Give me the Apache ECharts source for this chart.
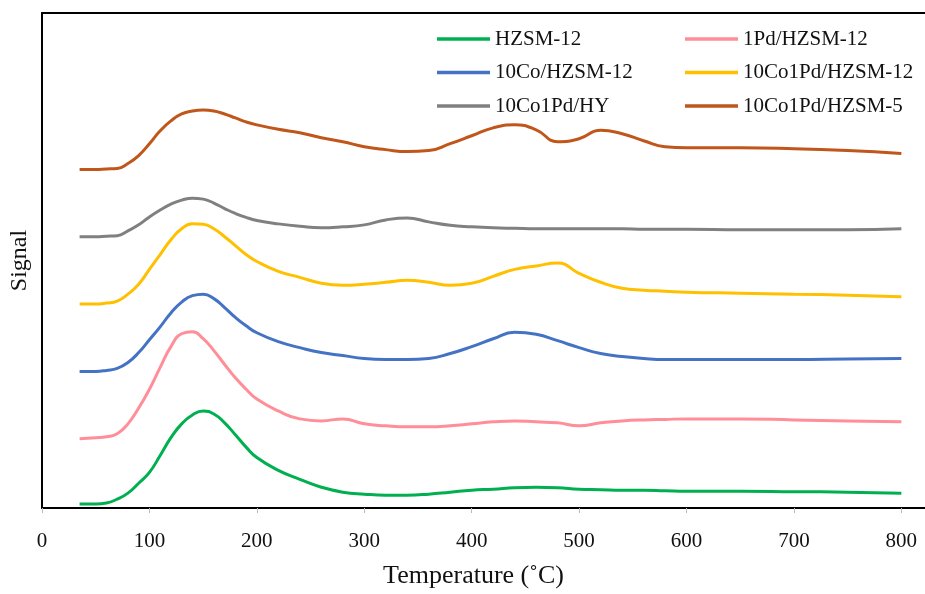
<!DOCTYPE html>
<html>
<head>
<meta charset="utf-8">
<script src="https://cdn.jsdelivr.net/npm/echarts@6/dist/echarts.min.js"></script>
<style>html,body{margin:0;padding:0;background:#fff}#c{width:925px;height:594px}</style>
</head>
<body>
<div id="c"></div>
<script>
const temps = [35,50,60,70,80,90,100,110,120,130,140,150,160,170,180,190,200,220,240,260,280,300,320,340,360,380,400,420,440,460,480,500,520,540,560,580,600,650,700,750,800];
const xTicks = [0,100,200,300,400,500,600,700,800];

const hzsm12 = [0.8,0.8,1.0,1.8,3.0,5.0,7.2,10.6,14.2,17,18.8,19.6,19.0,17.2,14.8,12.3,10.2,7.6,5.8,4.2,3.2,2.8,2.6,2.6,2.8,3.2,3.6,3.8,4.1,4.2,4.1,3.8,3.7,3.6,3.6,3.5,3.4,3.4,3.3,3.2,3.0];
const pd1 = [14,14.2,14.4,15,17,20.2,24,28.4,32.6,35.2,35.6,34.2,31.8,29,26.3,24,22,19.6,18,17.6,18,17,16.6,16.4,16.4,16.6,17,17.4,17.6,17.4,17.2,16.6,17.2,17.6,17.8,17.9,18,18,17.8,17.6,17.4];
const co10 = [27.6,27.6,27.8,28.2,29.4,31.4,34,36.6,39.4,41.6,42.9,43.2,42.3,40.5,38.5,36.8,35.4,33.6,32.4,31.4,30.8,30.2,30,30,30.2,31.2,32.6,34.2,35.5,35.1,33.8,32.4,31.2,30.6,30.2,30,30,30,30,30.1,30.2];
const co10pd1 = [41.2,41.2,41.4,41.8,43.2,45.2,48.2,51.2,54.2,56.4,57.4,57.3,56.4,54.8,53,51.2,49.8,47.8,46.6,45.4,45,45.2,45.6,46,45.6,45,45.4,46.8,48.2,48.9,49.5,47.4,45.6,44.4,44,43.8,43.6,43.4,43.2,43,42.7];
const co10pd1HY = [54.8,54.8,54.9,55,56,57.2,58.8,60.2,61.4,62.2,62.6,62.4,61.6,60.5,59.5,58.7,58.1,57.4,56.9,56.6,56.8,57.2,58.2,58.6,57.8,57.1,56.8,56.6,56.5,56.4,56.4,56.4,56.4,56.4,56.3,56.3,56.3,56.2,56.2,56.2,56.4];
const co10pd1Z5 = [68.4,68.4,68.5,68.6,69.6,71.2,73.6,76.2,78.2,79.6,80.2,80.4,80.2,79.6,78.8,78,77.4,76.5,75.8,74.8,74,73,72.4,72,72.2,73.6,75.2,76.8,77.4,76.4,74,74.6,76.3,75.6,74.2,73,72.8,72.8,72.6,72.2,71.6];

const names = ['HZSM-12','1Pd/HZSM-12','10Co/HZSM-12','10Co1Pd/HZSM-12','10Co1Pd/HY','10Co1Pd/HZSM-5'];
const seriesData = [hzsm12, pd1, co10, co10pd1, co10pd1HY, co10pd1Z5];
const colors = ['#00B050','#FF8E98','#4472C4','#FFC000','#808080','#C0561A'];

const font = 'Liberation Serif, Times New Roman, serif';
const chart = echarts.init(document.getElementById('c'), null, {renderer:'canvas'});
const legendCommon = {
  orient: 'vertical', icon: 'rect', itemWidth: 53, itemHeight: 3.5, itemGap: 11.5,
  textStyle: {fontFamily: font, fontSize: 21, color: '#111', lineHeight: 22},
  selectedMode: false
};
chart.setOption({
  animation: false,
  backgroundColor: '#fff',
  color: colors,
  grid: {left: 42, right: 0, top: 13, bottom: 81, containLabel: false},
  legend: [
    Object.assign({left: 432, top: 23, data: [names[0], names[2], names[4]]}, legendCommon),
    Object.assign({left: 680, top: 23, data: [names[1], names[3], names[5]]}, legendCommon)
  ],
  xAxis: [{
    type: 'value', min: 0, max: 822, interval: 100,
    name: 'Temperature (˚C)', nameLocation: 'middle', nameGap: 55,
    nameTextStyle: {fontFamily: font, fontSize: 26, color: '#111', padding: [0, 20, 0, 0]},
    axisLine: {show: true, onZero: false, lineStyle: {color: '#000', width: 2}},
    axisTick: {show: true, length: 5, lineStyle: {color: '#bbb'}, customValues: xTicks},
    axisLabel: {fontFamily: font, fontSize: 21, color: '#111', margin: 23, customValues: xTicks},
    splitLine: {show: false}
  }, {
    type: 'value', position: 'top', min: 0, max: 822,
    axisLine: {show: true, onZero: false, lineStyle: {color: '#000', width: 2}},
    axisTick: {show: false}, axisLabel: {show: false}, splitLine: {show: false}
  }],
  yAxis: {
    type: 'value', min: 0, max: 100,
    name: 'Signal', nameLocation: 'middle', nameGap: 10,
    nameTextStyle: {fontFamily: font, fontSize: 24, color: '#111'},
    axisLine: {show: true, onZero: false, lineStyle: {color: '#000', width: 2}},
    axisTick: {show: false}, axisLabel: {show: false}, splitLine: {show: false}
  },
  series: names.map((n, i) => ({
    name: n, type: 'line', smooth: true, symbol: 'none',
    lineStyle: {width: 3, color: colors[i]}, itemStyle: {color: colors[i]},
    data: temps.map((t, k) => [t, seriesData[i][k]])
  }))
});
</script>
</body>
</html>
